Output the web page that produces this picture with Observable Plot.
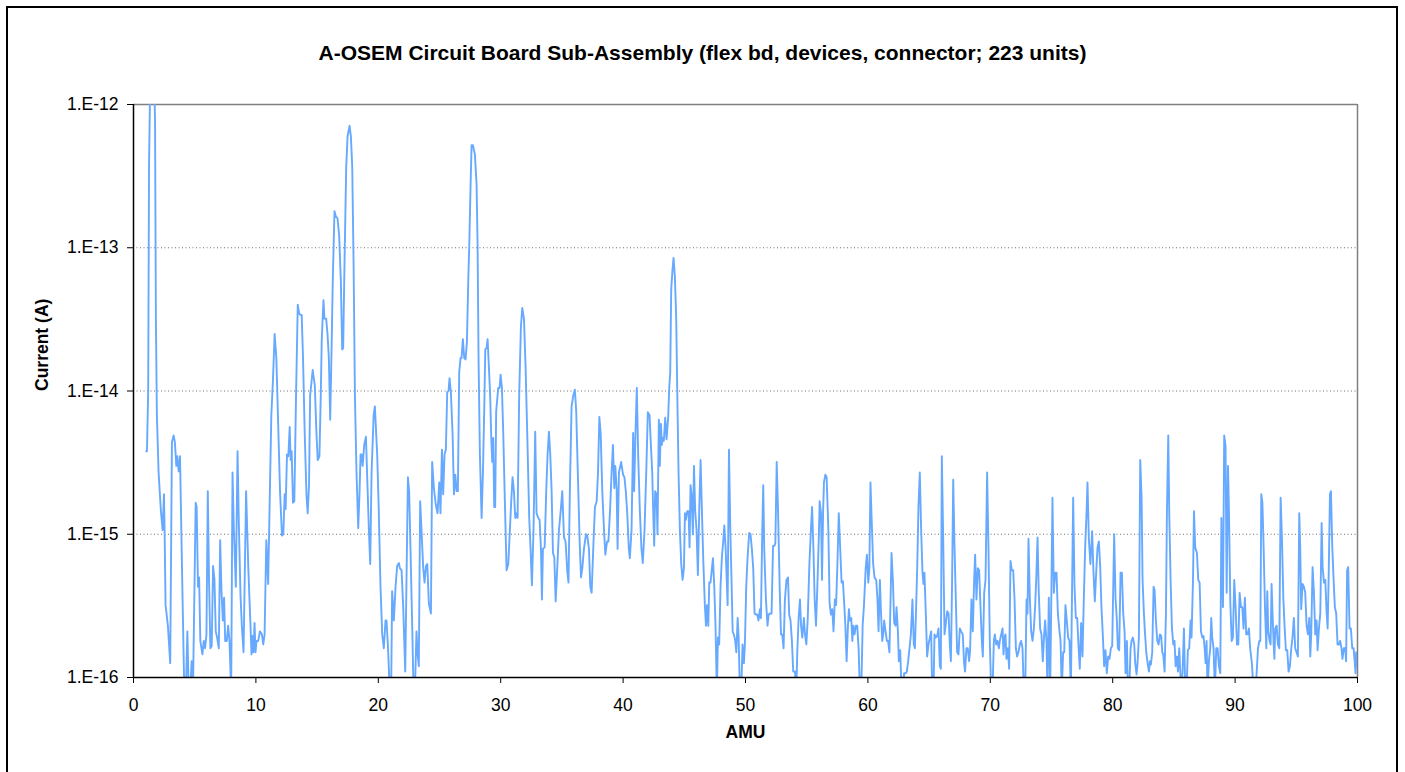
<!DOCTYPE html>
<html><head><meta charset="utf-8">
<script src="https://cdn.jsdelivr.net/npm/d3@7"></script>
<script src="https://cdn.jsdelivr.net/npm/@observablehq/plot@0.6"></script>
<style>
html,body{margin:0;padding:0;background:#fff;}
#wrap{position:relative;width:1405px;height:772px;overflow:hidden;background:#fff;}
#wrap svg{position:absolute;left:0;top:0;}
#border{position:absolute;left:6px;top:6px;width:1388px;height:790px;border:2px solid #000;pointer-events:none;}
</style></head><body>
<div id="wrap"><div id="border"></div></div>
<script>
const chartTitle = "A-OSEM Circuit Board Sub-Assembly (flex bd, devices, connector; 223 units)";
const xLabel = "AMU";
const yLabel = "Current (A)";
const xTicks = [0,10,20,30,40,50,60,70,80,90,100];
const yTicks = [1e-16,1e-15,1e-14,1e-13,1e-12];
const yTickLabels = ["1.E-16","1.E-15","1.E-14","1.E-13","1.E-12"];

// [AMU, current (A)]
const seg1 = [[1.04,3.8e-15],[1.10,3.8e-15],[1.20,1.0e-14],[1.27,3.7e-13],[1.40,2.5e-12],[1.60,2.8e-12],[1.76,7.9e-13],[1.83,3.2e-14],[1.91,6.8e-15],[2.05,2.7e-15],
[2.24,1.45e-15],[2.38,1.07e-15],[2.49,1.9e-15],[2.54,1.07e-15],[2.62,3.2e-16],[2.81,2.3e-16],[3.00,1.26e-16],[3.14,4.4e-15],[3.28,4.9e-15],[3.38,4.4e-15],
[3.50,3.0e-15],[3.58,3.5e-15],[3.69,2.75e-15],[3.80,3.5e-15],[3.88,1.45e-15],[3.99,4.3e-16],[4.15,8e-17],[4.28,8e-17],[4.40,2.1e-16],[4.51,8e-17],
[4.64,8e-17],[4.75,1.3e-16],[4.86,8e-17],[5.08,1.66e-15],[5.16,1.55e-15],[5.27,4.3e-16],[5.36,5.0e-16],[5.46,1.8e-16],[5.63,1.45e-16],[5.74,1.8e-16],
[5.85,1.6e-16],[5.96,2.0e-16],[6.07,2.0e-15],[6.17,4.8e-16],[6.28,1.6e-16],[6.39,1.66e-16],[6.50,6.0e-16],[6.61,4.9e-16],[6.72,2.1e-16],[6.83,1.9e-16],
[6.97,1.6e-16],[7.08,9.1e-16],[7.19,4.0e-16],[7.30,2.5e-16],[7.40,3.6e-16],[7.49,1.8e-16],[7.62,1.8e-16],[7.73,2.3e-16],[7.84,1.8e-16],[7.98,8e-17],
[8.09,2.7e-15],[8.20,1.07e-15],[8.36,4.3e-16],[8.50,3.8e-15],[8.61,1.15e-15],[8.74,3.8e-16],[8.85,2.3e-16],[8.99,1.5e-16],[9.20,2.0e-15],[9.38,5.8e-16],
[9.55,2.4e-16],[9.64,1.45e-16],[9.72,1.95e-16],[9.80,1.5e-16],[9.89,2.4e-16],[9.97,1.5e-16],[10.05,1.8e-16],[10.19,1.8e-16],[10.33,2.1e-16],[10.49,2.0e-16],
[10.60,1.7e-16],[10.71,2.0e-16],[10.85,9.1e-16],[11.00,4.5e-16],[11.26,6.8e-15],[11.39,1.17e-14],[11.53,2.5e-14],[11.67,1.7e-14],[11.80,6.8e-15],[11.97,2.0e-15],
[12.13,9.8e-16],[12.24,1.0e-15],[12.35,1.9e-15],[12.43,1.5e-15],[12.54,3.6e-15],[12.65,3.5e-15],[12.76,5.6e-15],[12.84,3.3e-15],[12.92,3.8e-15],[13.03,1.66e-15],
[13.14,1.7e-15],[13.28,9.3e-15],[13.42,4.0e-14],[13.53,3.5e-14],[13.61,3.4e-14],[13.74,3.4e-14],[13.85,1.7e-14],[13.99,5.0e-15],[14.13,1.9e-15],[14.23,1.4e-15],
[14.34,2.2e-15],[14.43,9.3e-15],[14.54,1.15e-14],[14.64,1.4e-14],[14.81,1.1e-14],[14.95,5.0e-15],[15.05,3.3e-15],[15.19,3.5e-15],[15.30,9.3e-15],[15.38,2.3e-14],
[15.52,4.3e-14],[15.60,3.2e-14],[15.74,3.2e-14],[15.85,2.5e-14],[15.96,1.7e-14],[16.07,6.3e-15],[16.17,1.7e-14],[16.28,5.9e-14],[16.42,1.8e-13],[16.53,1.66e-13],
[16.67,1.6e-13],[16.80,1.23e-13],[16.94,5.9e-14],[17.05,1.95e-14],[17.13,2.0e-14],[17.24,7.9e-14],[17.38,3.7e-13],[17.49,6.0e-13],[17.65,7.1e-13],[17.76,6.0e-13],
[17.87,3.7e-13],[17.98,7.9e-14],[18.09,9.3e-15],[18.22,2.7e-15],[18.36,1.1e-15],[18.47,2.0e-15],[18.55,3.6e-15],[18.64,3.6e-15],[18.72,3.0e-15],[18.85,4.2e-15],
[18.99,4.8e-15],[19.13,2.0e-15],[19.23,1.07e-15],[19.34,6.2e-16],[19.45,2.7e-15],[19.62,6.8e-15],[19.72,7.8e-15]];

const seg2 = [[19.91,3.6e-15],[20.04,1.45e-15],[20.18,4.3e-16],[20.32,2.0e-16],[20.45,1.6e-16],[20.59,2.5e-16],[20.67,2.5e-16],[20.78,1.7e-16],[20.94,8e-17],[21.05,8e-17],
[21.13,4.0e-16],[21.27,2.5e-16],[21.41,4.3e-16],[21.54,6.0e-16],[21.68,6.3e-16],[21.76,5.8e-16],[21.90,5.6e-16],[22.03,3.2e-16],[22.20,1.1e-16],[22.42,2.5e-15],
[22.52,2.0e-15],[22.63,7.9e-16],[22.77,2.3e-16],[22.88,8e-17],[22.99,8e-17],[23.12,2.1e-16],[23.20,1.5e-16],[23.31,1.2e-16],[23.42,1.7e-15],[23.53,1.07e-15],
[23.67,5.8e-16],[23.78,4.6e-16],[23.89,6.0e-16],[24.00,6.2e-16],[24.13,3.3e-16],[24.30,2.8e-16],[24.40,3.2e-15],[24.54,2.1e-15],[24.70,1.6e-15],[24.84,1.4e-15],
[24.98,2.3e-15],[25.08,1.4e-15],[25.20,3.9e-15],[25.30,1.9e-15],[25.41,3.6e-15],[25.52,3.9e-15],[25.63,9.8e-15],[25.74,1.0e-14],[25.82,1.23e-14],[25.93,9.8e-15],
[26.07,5.0e-15],[26.18,1.9e-15],[26.29,2.6e-15],[26.40,2.0e-15],[26.50,2.0e-15],[26.61,1.35e-14],[26.72,1.7e-14],[26.80,1.7e-14],[26.91,2.3e-14],[27.02,1.7e-14],
[27.13,1.66e-14],[27.24,2.2e-14],[27.35,5.9e-14],[27.43,1.02e-13],[27.54,2.75e-13],[27.62,5.2e-13],[27.73,5.2e-13],[27.89,4.5e-13],[28.03,2.75e-13],[28.11,1.07e-13],
[28.19,1.7e-14],[28.30,3.6e-15],[28.44,1.3e-15],[28.55,2.7e-15],[28.66,7.8e-15],[28.74,1.95e-14],[28.85,2.0e-14],[28.93,2.3e-14],[29.03,1.5e-14],[29.14,9.3e-15],
[29.23,4.7e-15],[29.31,3.2e-15],[29.39,4.7e-15],[29.47,1.55e-15],[29.55,1.55e-15],[29.63,7.2e-15],[29.80,1.05e-14],[29.91,1.05e-14],[29.99,1.3e-14],[30.10,1.05e-14],
[30.21,5.0e-15],[30.32,2.0e-15],[30.48,5.6e-16],[30.62,6.2e-16],[30.75,1.07e-15],[30.86,1.7e-15],[30.97,2.5e-15],[31.08,2.0e-15],[31.19,1.3e-15],[31.27,1.4e-15],
[31.38,1.3e-15],[31.51,9.3e-15],[31.65,2.8e-14],[31.76,3.8e-14],[31.90,3.2e-14],[32.03,1.5e-14],[32.17,5.0e-15],[32.33,1.3e-15],[32.44,7.9e-16],[32.55,4.4e-16],
[32.68,1.07e-15],[32.82,5.2e-15],[32.93,1.4e-15],[33.07,1.3e-15],[33.18,1.26e-15],[33.29,7.9e-16],[33.37,3.5e-16],[33.45,7.9e-16],[33.59,8.1e-16],[33.72,2.0e-15],
[33.83,3.6e-15],[33.94,5.2e-15],[34.05,3.6e-15],[34.16,2.0e-15],[34.27,7.4e-16],[34.38,6.9e-16],[34.49,3.4e-16],[34.62,5.8e-16],[34.76,1.07e-15],[34.90,1.45e-15],
[35.03,2.0e-15],[35.17,9.5e-16],[35.30,8.9e-16],[35.44,5.5e-16],[35.54,4.6e-16],[35.65,2.0e-15],[35.79,7.8e-15],[35.93,9.3e-15],[36.06,1.02e-14],[36.17,7.2e-15],
[36.30,2.7e-15],[36.45,8.9e-16],[36.56,5.0e-16],[36.67,5.8e-16],[36.80,7.9e-16],[36.97,1.0e-15],[37.07,9.8e-16],[37.21,7.9e-16],[37.32,4.3e-16],[37.43,3.9e-16],
[37.56,7.9e-16],[37.70,1.55e-15],[37.84,1.7e-15],[37.95,2.7e-15],[38.06,6.6e-15],[38.17,5.0e-15],[38.30,2.0e-15],[38.44,1.07e-15],[38.55,7.2e-16],[38.69,8.9e-16],
[38.80,8.9e-16],[38.93,1.45e-15],[39.06,2.7e-15],[39.17,4.2e-15],[39.28,2.1e-15],[39.36,3.0e-15],[39.47,2.1e-15],[39.55,7.9e-16],[39.66,2.7e-15],[39.84,3.2e-15]];

const seg3 = [[40.00,2.6e-15],[40.11,2.5e-15],[40.22,2.0e-15],[40.33,1.45e-15],[40.47,7.9e-16],[40.55,6.8e-16],[40.69,1.07e-15],[40.82,5.1e-15],[40.90,2.0e-15],[41.01,5.0e-15],
[41.12,1.05e-14],[41.23,3.6e-15],[41.37,1.45e-15],[41.50,7.9e-16],[41.61,6.3e-16],[41.75,1.07e-15],[41.89,2.7e-15],[42.02,7.1e-15],[42.16,6.8e-15],[42.27,4.2e-15],
[42.38,2.7e-15],[42.46,1.45e-15],[42.54,8.3e-16],[42.62,2.0e-15],[42.73,1.9e-15],[42.81,1.0e-15],[42.92,6.3e-15],[43.00,3.0e-15],[43.09,5.9e-15],[43.17,4.2e-15],
[43.25,4.7e-15],[43.33,4.5e-15],[43.44,6.5e-15],[43.55,4.6e-15],[43.68,6.5e-15],[43.77,1.05e-14],[43.85,1.35e-14],[43.93,5.1e-14],[44.04,7.1e-14],[44.12,8.5e-14],
[44.23,6.3e-14],[44.34,3.2e-14],[44.43,9.3e-15],[44.53,2.7e-15],[44.64,1.07e-15],[44.75,6.2e-16],[44.86,4.8e-16],[44.97,5.8e-16],[45.05,1.4e-15],[45.13,1.26e-15],
[45.24,1.45e-15],[45.35,1.45e-15],[45.43,8.1e-16],[45.51,2.2e-15],[45.59,1.9e-15],[45.70,1.0e-15],[45.79,3.0e-15],[45.89,1.45e-15],[46.00,1.07e-15],[46.11,5.2e-16],
[46.22,1.45e-15],[46.33,3.3e-15],[46.44,1.45e-15],[46.55,6.6e-16],[46.68,3.2e-16],[46.77,2.3e-16],[46.85,3.2e-16],[46.96,2.3e-16],[47.04,4.6e-16],[47.14,4.6e-16],
[47.26,5.8e-16],[47.34,6.8e-16],[47.45,4.3e-16],[47.55,2.3e-16],[47.66,8e-17],[47.75,1.9e-16],[47.85,1.7e-16],[47.96,4.3e-16],[48.07,6.9e-16],[48.18,8.9e-16],
[48.27,1.15e-15],[48.38,7.9e-16],[48.46,5.0e-16],[48.54,3.2e-16],[48.65,3.9e-15],[48.76,1.07e-15],[48.87,4.3e-16],[48.95,2.1e-16],[49.05,2.0e-16],[49.16,1.8e-16],
[49.25,1.5e-16],[49.36,2.6e-16],[49.44,1.9e-16],[49.54,8e-17],[49.65,8e-17],[49.76,1.7e-16],[49.87,1.26e-16],[49.95,1.7e-16],[50.06,4.3e-16],[50.17,6.9e-16],
[50.30,1.02e-15],[50.41,1.0e-15],[50.52,7.9e-16],[50.63,5.8e-16],[50.74,2.8e-16],[50.85,2.75e-16],[50.96,2.75e-16],[51.06,2.5e-16],[51.18,3.0e-16],[51.26,2.6e-16],
[51.37,1.07e-15],[51.45,2.2e-15],[51.53,7.9e-16],[51.67,3.5e-16],[51.80,2.3e-16],[51.89,2.75e-16],[52.00,2.8e-16],[52.13,2.8e-16],[52.25,8.3e-16],[52.36,8.3e-16],
[52.44,8.7e-16],[52.55,3.2e-15],[52.66,1.45e-15],[52.79,4.3e-16],[52.90,2.0e-16],[53.00,2.0e-16],[53.11,1.6e-16],[53.22,3.5e-16],[53.35,4.8e-16],[53.47,5.0e-16],
[53.57,2.75e-16],[53.68,2.5e-16],[53.79,1.8e-16],[53.90,1.1e-16],[54.04,1.1e-16],[54.15,8e-17],[54.23,1.5e-16],[54.34,2.6e-16],[54.45,3.5e-16],[54.54,2.3e-16],
[54.64,1.9e-16],[54.77,2.6e-16],[54.86,2.0e-16],[54.97,1.7e-16],[55.08,2.5e-16],[55.22,6.2e-16],[55.33,1.0e-15],[55.44,1.55e-15],[55.55,7.9e-16],[55.65,3.5e-16],
[55.76,2.3e-16],[55.87,4.3e-16],[55.98,8.9e-16],[56.06,1.7e-15],[56.17,1.4e-15],[56.25,4.8e-16],[56.34,1.45e-15],[56.41,2.3e-15],[56.52,2.6e-15],[56.63,2.5e-15],
[56.77,1.07e-15],[56.87,3.3e-16],[56.98,2.75e-16],[57.09,3.0e-16],[57.19,2.1e-16],[57.30,3.5e-16],[57.40,3.2e-16],[57.50,5.8e-16],[57.62,1.4e-15],[57.74,7.9e-16],
[57.85,4.6e-16],[57.96,4.7e-16],[58.07,3.2e-16],[58.16,2.3e-16],[58.26,1.3e-16],[58.37,2.3e-16],[58.45,3.0e-16],[58.53,2.5e-16],[58.64,2.6e-16],[58.73,1.8e-16],
[58.81,2.3e-16],[58.91,2.0e-16],[59.02,2.3e-16],[59.13,2.3e-16],[59.24,1.6e-16],[59.35,8e-17],[59.46,8e-17],[59.57,2.3e-16],[59.68,3.2e-16],[59.82,5.8e-16],
[59.92,7.2e-16],[60.03,4.6e-16],[60.12,5.8e-16]];

const seg4 = [[60.21,2.3e-15],[60.29,1.4e-15],[60.43,6.2e-16],[60.54,5.0e-16],[60.68,4.8e-16],[60.78,3.5e-16],[60.87,2.1e-16],[60.98,4.8e-16],[61.06,3.0e-16],[61.17,1.8e-16],
[61.25,2.0e-16],[61.33,2.5e-16],[61.44,2.1e-16],[61.55,1.8e-16],[61.65,1.8e-16],[61.76,1.5e-16],[61.93,7.4e-16],[62.04,4.8e-16],[62.15,2.4e-16],[62.26,2.3e-16],
[62.34,3.1e-16],[62.45,2.1e-16],[62.53,1.3e-16],[62.64,1.55e-16],[62.75,8e-17],[62.86,8e-17],[62.96,1.07e-16],[63.07,1.07e-16],[63.18,1.1e-16],[63.29,1.3e-16],
[63.40,1.6e-16],[63.51,2.0e-16],[63.64,3.5e-16],[63.75,1.7e-16],[63.84,1.6e-16],[63.94,3.1e-16],[64.03,5.9e-16],[64.13,1.55e-15],[64.24,2.7e-15],[64.35,1.07e-15],
[64.46,5.4e-16],[64.54,4.5e-16],[64.62,5.4e-16],[64.73,2.8e-16],[64.84,1.4e-16],[64.95,1.7e-16],[65.06,1.9e-16],[65.17,2.1e-16],[65.25,8e-17],[65.36,8e-17],
[65.44,2.0e-16],[65.55,1.9e-16],[65.66,1.95e-16],[65.77,2.2e-16],[65.88,1.2e-16],[65.96,1.15e-16],[66.04,3.5e-15],[66.15,9.5e-16],[66.26,2.0e-16],[66.37,2.4e-16],
[66.48,2.9e-16],[66.59,2.8e-16],[66.69,1.7e-16],[66.78,1.3e-16],[66.88,4.8e-16],[66.97,2.4e-15],[67.07,8.7e-16],[67.18,3.6e-16],[67.29,1.5e-16],[67.40,1.45e-16],
[67.51,2.2e-16],[67.62,2.1e-16],[67.75,2.0e-16],[67.86,1.26e-16],[67.94,1.1e-16],[68.05,1.6e-16],[68.16,1.6e-16],[68.27,1.3e-16],[68.35,1.55e-16],[68.46,3.5e-16],
[68.57,2.1e-16],[68.68,4.8e-16],[68.76,7.2e-16],[68.87,3.5e-16],[68.98,5.8e-16],[69.09,5.6e-16],[69.20,3.1e-16],[69.31,1.8e-16],[69.39,1.4e-16],[69.50,3.9e-16],
[69.61,4.8e-16],[69.74,2.7e-15],[69.85,8.1e-16],[69.96,1.8e-16],[70.07,8e-17],[70.18,8e-17],[70.29,1.8e-16],[70.37,2.0e-16],[70.48,1.7e-16],[70.59,1.8e-16],
[70.70,1.6e-16],[70.78,1.8e-16],[70.89,2.0e-16],[71.00,2.2e-16],[71.08,1.45e-16],[71.16,1.9e-16],[71.24,2.0e-16],[71.32,1.35e-16],[71.43,1.6e-16],[71.54,1.15e-16],
[71.65,6.5e-16],[71.76,5.6e-16],[71.87,5.6e-16],[71.98,3.5e-16],[72.09,1.6e-16],[72.19,1.4e-16],[72.30,1.5e-16],[72.41,1.7e-16],[72.52,1.8e-16],[72.63,1.6e-16],
[72.74,8e-17],[72.85,8e-17],[72.96,3.5e-16],[73.04,2.8e-16],[73.12,9.3e-16],[73.23,3.6e-16],[73.34,2.1e-16],[73.45,1.8e-16],[73.56,2.2e-16],[73.66,3.1e-16],
[73.75,4.8e-16],[73.86,9.5e-16],[73.96,3.9e-16],[74.07,2.2e-16],[74.18,2.0e-16],[74.29,1.3e-16],[74.40,2.0e-16],[74.48,2.5e-16],[74.59,1.8e-16],[74.67,8e-17],
[74.78,3.6e-16],[74.89,8e-17],[74.97,2.8e-16],[75.08,1.8e-15],[75.19,3.9e-16],[75.30,5.4e-16],[75.41,5.4e-16],[75.52,2.8e-16],[75.63,2.2e-16],[75.74,1.8e-16],
[75.84,8e-17],[75.95,1.5e-16],[76.04,1.5e-16],[76.14,3.2e-16],[76.25,2.5e-16],[76.36,1.9e-16],[76.47,1.8e-16],[76.58,8e-17],[76.69,4.8e-16],[76.77,1.8e-15],
[76.88,4.3e-16],[76.99,2.6e-16],[77.10,2.6e-16],[77.20,1.7e-16],[77.31,1.15e-16],[77.42,2.4e-16],[77.53,1.4e-16],[77.64,3.5e-16],[77.75,8.1e-16],[77.86,1.4e-15],
[77.94,2.3e-15],[78.05,9.3e-16],[78.18,6.2e-16],[78.32,1.05e-15],[78.43,5.4e-16],[78.54,3.4e-16],[78.65,5.4e-16],[78.76,8.1e-16],[78.87,8.9e-16],[78.98,5.9e-16],
[79.08,3.1e-16],[79.19,2.0e-16],[79.30,1.2e-16],[79.41,1.55e-16],[79.52,1.07e-16],[79.63,1.4e-16],[79.74,1.35e-16],[79.85,1.6e-16],[79.96,1.66e-16]];

const seg5 = [[80.12,1.0e-15],[80.23,3.6e-16],[80.34,2.5e-16],[80.42,1.6e-16],[80.53,1.55e-16],[80.64,5.4e-16],[80.75,5.4e-16],[80.86,2.8e-16],[80.97,2.1e-16],[81.05,1.07e-16],
[81.16,1.8e-16],[81.24,8e-17],[81.35,8e-17],[81.46,1.6e-16],[81.54,1.8e-16],[81.65,1.9e-16],[81.76,1.7e-16],[81.84,1.26e-16],[81.95,1.05e-16],[82.03,1.26e-16],
[82.14,1.9e-16],[82.25,3.3e-15],[82.36,1.8e-15],[82.44,4.8e-16],[82.55,2.8e-16],[82.63,2.1e-16],[82.74,1.5e-16],[82.85,1.26e-16],[82.96,1.1e-16],[83.04,1.3e-16],
[83.12,1.23e-16],[83.23,1.5e-16],[83.34,4.3e-16],[83.42,4.1e-16],[83.53,2.5e-16],[83.64,1.8e-16],[83.75,1.7e-16],[83.86,2.0e-16],[83.96,1.95e-16],[84.05,1.5e-16],
[84.13,1.45e-16],[84.24,1.1e-16],[84.35,2.8e-16],[84.43,1.4e-15],[84.54,4.9e-15],[84.62,1.4e-15],[84.73,4.8e-16],[84.84,2.2e-16],[84.95,1.7e-16],[85.05,1.8e-16],
[85.14,1.2e-16],[85.25,1.4e-16],[85.33,1.1e-16],[85.44,1.6e-16],[85.52,1.1e-16],[85.60,8e-17],[85.71,1.1e-16],[85.82,2.2e-16],[85.93,8e-17],[86.03,8e-17],
[86.14,1.55e-16],[86.25,1.6e-16],[86.36,2.5e-16],[86.44,1.9e-16],[86.56,4.8e-16],[86.64,1.45e-15],[86.74,8.1e-16],[86.88,7.4e-16],[86.99,4.8e-16],[87.10,4.6e-16],
[87.21,2.1e-16],[87.32,1.9e-16],[87.42,1.95e-16],[87.51,1.6e-16],[87.59,1.26e-16],[87.67,1.8e-16],[87.75,8e-17],[87.86,1.3e-16],[87.97,1.6e-16],[88.05,2.6e-16],
[88.13,1.9e-16],[88.24,1.6e-16],[88.35,8e-17],[88.46,1.6e-16],[88.57,1.6e-16],[88.68,1.2e-16],[88.79,1.07e-16],[88.88,1.3e-15],[88.96,4.8e-16],[89.01,3.1e-16],
[89.11,4.9e-15],[89.22,4.1e-15],[89.31,3.9e-16],[89.42,3.0e-15],[89.50,1.4e-15],[89.61,3.3e-16],[89.72,1.8e-16],[89.82,1.9e-16],[89.93,4.8e-16],[90.04,3.1e-16],
[90.15,1.7e-16],[90.26,1.7e-16],[90.37,3.9e-16],[90.48,3.1e-16],[90.59,3.1e-16],[90.69,2.2e-16],[90.80,3.6e-16],[90.91,2.0e-16],[91.02,2.0e-16],[91.13,2.2e-16],
[91.23,1.6e-16],[91.37,1.26e-16],[91.51,8e-17],[91.64,8e-17],[91.76,1.07e-16],[91.87,1.6e-16],[91.98,1.8e-16],[92.06,1.8e-16],[92.14,1.9e-15],[92.23,1.66e-15],
[92.33,8.1e-16],[92.44,3.1e-16],[92.55,1.6e-16],[92.63,4.0e-16],[92.71,2.1e-16],[92.82,1.8e-16],[92.90,1.7e-16],[92.98,4.5e-16],[93.06,2.8e-16],[93.15,1.7e-16],
[93.21,1.35e-16],[93.28,2.2e-16],[93.39,2.3e-16],[93.50,1.7e-16],[93.61,1.6e-16],[93.72,1.8e-15],[93.83,9.1e-16],[93.94,3.6e-16],[94.05,2.2e-16],[94.15,1.55e-16],
[94.26,1.55e-16],[94.37,1.1e-16],[94.48,1.2e-16],[94.59,1.6e-16],[94.69,1.9e-16],[94.80,2.6e-16],[94.91,1.6e-16],[95.02,1.5e-16],[95.13,1.4e-16],[95.24,1.4e-15],
[95.32,8.1e-16],[95.40,3.0e-16],[95.51,4.5e-16],[95.62,4.3e-16],[95.73,3.9e-16],[95.84,2.3e-16],[95.95,2.0e-16],[96.06,2.6e-16],[96.14,1.4e-16],[96.22,2.0e-16],
[96.33,5.9e-16],[96.44,3.9e-16],[96.55,2.0e-16],[96.66,2.5e-16],[96.74,1.55e-16],[96.85,2.2e-16],[96.96,2.8e-16],[97.07,1.2e-15],[97.15,5.9e-16],[97.26,4.6e-16],
[97.37,4.8e-16],[97.48,2.8e-16],[97.56,2.2e-16],[97.64,4.8e-16],[97.75,1.9e-15],[97.83,2.0e-15],[97.94,8.1e-16],[98.05,4.8e-16],[98.15,3.1e-16],[98.26,2.8e-16],
[98.37,1.7e-16],[98.48,1.7e-16],[98.58,1.8e-16],[98.69,1.6e-16],[98.77,1.35e-16],[98.88,1.6e-16],[98.99,1.6e-16],[99.07,1.3e-16],[99.15,5.6e-16],[99.24,5.9e-16],
[99.35,2.2e-16],[99.46,2.2e-16],[99.57,1.6e-16],[99.68,1.6e-16],[99.78,1.26e-16],[99.84,1.07e-16],[99.89,1.5e-16],[99.97,1.2e-16]];

const data = [...seg1, ...seg2, ...seg3, ...seg4, ...seg5].map(([amu, current]) => ({amu, current}));

const fmtY = d => {
  const i = yTicks.findIndex(t => Math.abs(Math.log10(t) - Math.log10(d)) < 1e-6);
  return i >= 0 ? yTickLabels[i] : "";
};

const chart = Plot.plot({
  width: 1405,
  height: 772,
  marginLeft: 133,
  marginRight: 48,
  marginTop: 104,
  marginBottom: 95,
  style: {fontFamily: "'Liberation Sans', Arial, sans-serif", fontSize: "17.5px", color: "#000", background: "transparent", overflow: "visible"},
  x: {domain: [0, 100], ticks: xTicks, tickSize: 6, tickPadding: 15, label: null},
  y: {type: "log", domain: [1e-16, 1e-12], ticks: yTicks, tickFormat: fmtY, tickSize: 6, tickPadding: 9, label: null},
  marks: [
    Plot.ruleY(yTicks.slice(1, 4), {stroke: "#6e6e6e", strokeDasharray: "1,2.5", strokeWidth: 1}),
    Plot.ruleY([1e-12], {stroke: "#808080", strokeWidth: 1.5}),
    Plot.ruleX([100], {stroke: "#808080", strokeWidth: 1.5}),
    Plot.lineY(data, {x: "amu", y: "current", stroke: "#66a9ff", strokeWidth: 1.9, clip: true}),
    Plot.ruleX([0], {stroke: "#000", strokeWidth: 1.5}),
    Plot.ruleY([1e-16], {stroke: "#000", strokeWidth: 1.5}),
    Plot.text([chartTitle], {frameAnchor: "top", dx: -43, dy: -59, fontSize: 21, fontWeight: "bold"}),
    Plot.text([yLabel], {frameAnchor: "left", dx: -91, rotate: -90, fontSize: 17.5, fontWeight: "bold"}),
    Plot.text([xLabel], {frameAnchor: "bottom", dy: 60, fontSize: 17.5, fontWeight: "bold"})
  ]
});
document.getElementById("wrap").insertBefore(chart, document.getElementById("border"));
</script>
</body></html>
